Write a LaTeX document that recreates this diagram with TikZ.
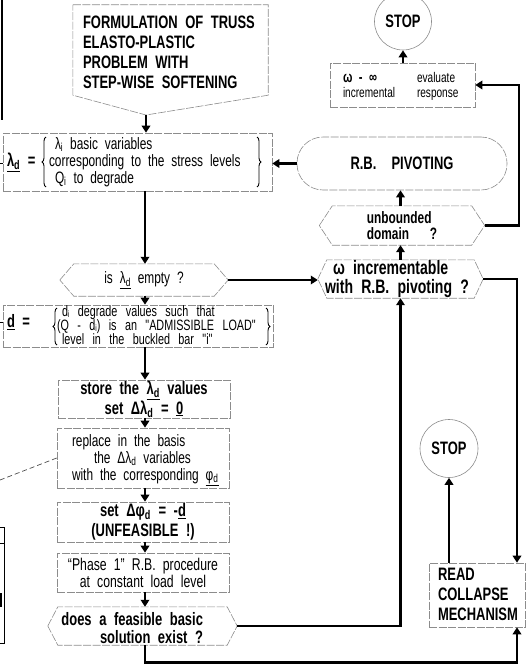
\documentclass[tikz,border=0pt]{standalone}
\usepackage{fontspec}
\setmainfont{Liberation Sans}[FakeStretch=0.72,WordSpace=2.1]
\newfontfamily\dfont{Liberation Sans}[FakeStretch=0.72,WordSpace=2.8]
\usetikzlibrary{arrows.meta,decorations.pathreplacing}
\newcommand\capf{\bfseries\fontsize{18}{20}\selectfont}
\newcommand\bodyb{\bfseries\fontsize{18}{18}\selectfont}
\newcommand\setb{\bfseries\fontsize{18}{20}\selectfont}
\newcommand\bigb{\bfseries\fontsize{19.5}{18.5}\selectfont}
\newcommand\unbf{\bfseries\fontsize{16.5}{16.5}\selectfont}
\newcommand\bodyr{\fontsize{16.5}{17}\selectfont}
\newcommand\phr{\fontsize{17}{15.5}\selectfont}
\newcommand\smallr{\dfont\fontsize{15}{14}\selectfont}
\newcommand\evr{\fontsize{14}{14}\selectfont}
\newcommand\evb{\bfseries\fontsize{15.5}{14}\selectfont}
\newcommand\sbs[1]{\textsubscript{#1}}
\newcommand\sbsd[1]{\raisebox{-0.1ex}{\fontsize{9}{9}\selectfont #1}}
\newcommand\vlam{\underline{λ\sbs{d}}}
\newcommand\hexout[2]{\draw[box] (#1.west) -- ([xshift=#2]#1.north west) -- ([xshift=-#2]#1.north east) -- (#1.east) -- ([xshift=-#2]#1.south east) -- ([xshift=#2]#1.south west) -- cycle;}
\begin{document}
\begin{tikzpicture}[x=1pt,y=-1pt,
  box/.style={draw=black!45, line width=0.6pt, dash pattern=on 8pt off 1.5pt, inner sep=0pt},
  hexa/.style={inner sep=0pt},
  txt/.style={inner sep=0pt, outer sep=0pt},
  arr/.style={line width=2.6pt, -{Triangle[length=7pt,width=8.5pt]}},
  brc/.style={decorate, decoration={brace, amplitude=4pt}, line width=0.9pt},
  stopc/.style={draw=black!45, circle, inner sep=0pt, line width=0.6pt, font=\capf},
]
\useasboundingbox (0,0) rectangle (526,669);

% fragments at left edge
\draw[line width=1.4pt] (2,0) -- (2,120);
\draw[line width=0.8pt] (0,527) -- (4,527) -- (4,643) -- (0,643);
\draw[line width=0.6pt] (0,543) -- (4,543);
\draw[line width=1.6pt] (1,593) -- (1,607);
\draw[line width=0.7pt] (0,163) -- (3,163);
\draw[line width=0.7pt] (0,322) -- (3,322);

\coordinate (stem) at (145,0);
\coordinate (rx) at (517,0);
\coordinate (rx2) at (519,0);

% formulation
\node[inner sep=0pt, minimum width=195pt, minimum height=90pt] (formbox) at (170.5,50) {};
\coordinate (formtip) at (146,115);
\draw[box] (formbox.north west) -- (formbox.north east) -- (formbox.south east) -- (formtip) -- (formbox.south west) -- cycle;
\node[txt, anchor=west, align=left, font=\capf] (form) at (83,52) {FORMULATION OF TRUSS\\ELASTO-PLASTIC\\PROBLEM WITH\\STEP-WISE SOFTENING};

% lambda_d box
\node[box, minimum width=269pt, minimum height=58pt] (lamd) at (137.5,162) {};
\node[txt, anchor=west, font=\bodyb] (lamdL) at (7,162) {\vlam\ =};
\draw[brc] (46,187) -- (46,137);
\node[txt, anchor=west, align=left, font=\bodyr] (lamdT) at (49,162) {\hspace{6pt}λ\sbs{i} basic variables\\corresponding to the stress levels\\\hspace{6pt}Q\sbs{i} to degrade};
\draw[brc] (257,137) -- (257,187);

% pivoting
\node[box, rounded corners=26pt, minimum width=210pt, minimum height=53pt, font=\capf] (pivot) at (402,163.5) {R.B.\ \ PIVOTING};

% is empty
\node[hexa, minimum width=168pt, minimum height=32pt, font=\bodyr] (empty) at (144,280) {is \vlam\ empty ?};
\hexout{empty}{14pt}

% d box
\node[box, minimum width=270pt, minimum height=42pt] (dbox) at (138,326) {};
\node[txt, anchor=west, font=\bodyb] (dL) at (7,322) {\underline{d} =};
\draw[brc] (57,345) -- (57,308);
\node[txt, anchor=west, align=left, font=\smallr] (dT) at (57,325.5) {\hspace{5pt}d\sbsd{i} degrade values such that\\(Q - d\sbsd{i}) is an "ADMISSIBLE LOAD"\\\hspace{5pt}level in the buckled bar "i"};
\draw[brc] (266,308) -- (266,345);

% store
\node[box, minimum width=172pt, minimum height=38pt, align=center, font=\bodyb] (store) at (144,399) {store the \vlam\ values\\set Δλ\sbs{d} = \underline{0}};

% replace
\node[box, minimum width=172pt, minimum height=60pt] (replace) at (143,458) {};
\node[txt, anchor=west, align=left, font=\bodyr] (replT) at (72,460) {replace in the basis\\\hspace{22pt}the Δλ\sbs{d} variables\\with the corresponding \underline{φ\sbs{d}}};

% set phi
\node[box, minimum width=172pt, minimum height=40pt, align=center, font=\setb] (setphi) at (143,522) {set Δφ\sbs{d} = -\underline{d}\\(UNFEASIBLE !)};

% phase 1
\node[box, minimum width=172pt, minimum height=39pt, align=center, font=\phr] (phase) at (143,572.5) {``Phase 1'' R.B. procedure\\at constant load level};

% feasible
\node[hexa, minimum width=189pt, minimum height=38pt] (feas) at (142.5,626) {};
\hexout{feas}{10pt}
\node[txt, anchor=east, align=right, font=\bodyb] (feasT) at (203,628) {does a feasible basic\\solution exist ?};

% omega incrementable
\node[hexa, minimum width=165pt, minimum height=38pt] (omega) at (400.5,279) {};
\hexout{omega}{9pt}
\node[txt, anchor=west, align=left, font=\bigb] (omegaT) at (325,279) {\hspace{8pt}ω incrementable\\with R.B. pivoting ?};

% unbounded
\node[hexa, minimum width=165pt, minimum height=39pt, align=left, font=\unbf] (unb) at (402,225.5) {unbounded\\domain\ \ \ ?};
\hexout{unb}{13pt}

% evaluate
\node[box, minimum width=145pt, minimum height=44pt] (eval) at (402.5,85) {};
\node[txt, anchor=base west, font=\evb] (evA) at (343,82) {ω - ∞};
\node[txt, anchor=base west, font=\evr] (evB) at (417,82) {evaluate};
\node[txt, anchor=base west, font=\evr] (evC) at (343,97) {incremental};
\node[txt, anchor=base west, font=\evr] (evD) at (417,97) {response};

% stops
\node[stopc, minimum size=57pt] (stop1) at (403,21.5) {STOP};
\node[stopc, minimum size=58pt] (stop2) at (449,448.5) {STOP};

% read collapse
\node[box, minimum width=96pt, minimum height=64pt] (read) at (477,595) {};
\node[txt, anchor=west, align=left, font=\capf] (readT) at (438,594) {READ\\COLLAPSE\\MECHANISM};

% connectors
\draw[arr] (formtip) -- (formtip |- lamd.north);
\draw[arr] (pivot.west) -- (pivot.west -| lamd.east);
\draw[arr] (lamd.south -| stem) -- (empty.north -| stem);
\draw[arr] (empty.east) -- (empty.east -| omega.west);
\draw[arr] (empty.south -| stem) -- (dbox.north -| stem);
\draw[arr] (dbox.south -| stem) -- (store.north -| stem);
\draw[arr] (store.south -| stem) -- (replace.north -| stem);
\draw[arr] (replace.south -| stem) -- (setphi.north -| stem);
\draw[arr] (setphi.south -| stem) -- (phase.north -| stem);
\draw[arr] (phase.south -| stem) -- (feas.north -| stem);
\draw[arr] (feas.east) -| (omega.south);
\draw[arr] (feas.south -| stem) -- ++(0,17) -| (read.south -| rx);
\draw[arr] (omega.east) -| (read.north -| rx);
\draw[arr] (stop2.south |- read.north) -- (stop2.south);
\draw[arr] (omega.north) -- (omega.north |- unb.south);
\draw[arr] (unb.north -| omega.north) -- (pivot.south -| omega.north);
\draw[arr] (unb.east) -- (unb.east -| rx2) |- (eval.east);
\draw[arr] (stop1.south |- eval.north) -- (stop1.south);

% dashed leader
\coordinate (dashend) at (0,480);
\draw[black!70, line width=0.7pt, dash pattern=on 5pt off 3pt] (replace.west) -- (dashend);
\end{tikzpicture}
\end{document}
